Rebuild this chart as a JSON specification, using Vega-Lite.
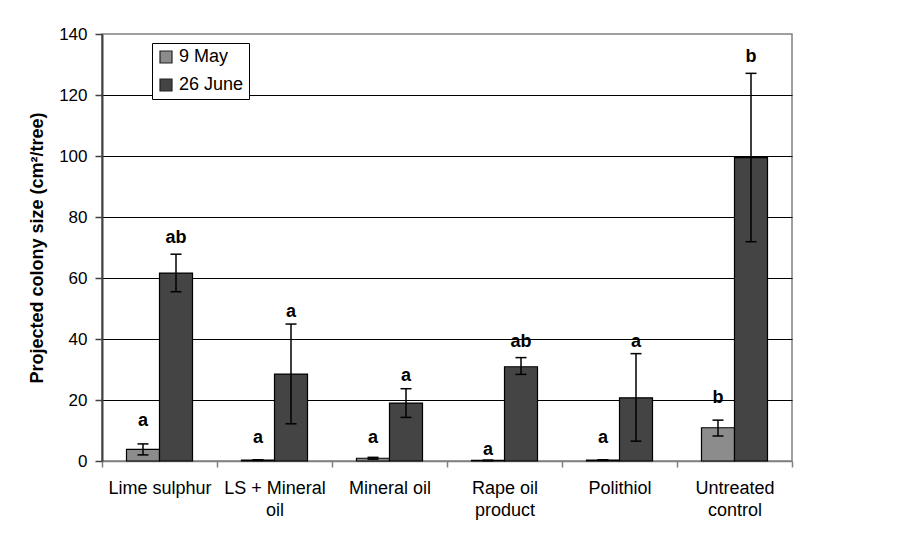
{
  "$schema": "https://vega.github.io/schema/vega-lite/v6.json",
  "width": 690,
  "height": 427,
  "autosize": {"type": "none"},
  "padding": {"left": 102, "top": 34, "right": 112, "bottom": 78},
  "background": "white",
  "config": {
    "font": "Liberation Sans",
    "view": {"stroke": "#808080", "strokeWidth": 1.5}
  },
  "data": {
    "values": [
      {"treatment": "Lime sulphur", "date": "9 May", "value": 3.8, "lo": 2.0, "hi": 5.6, "letter": "a", "letterY": 13.2},
      {"treatment": "Lime sulphur", "date": "26 June", "value": 61.6, "lo": 55.5, "hi": 67.8, "letter": "ab", "letterY": 73.1},
      {"treatment": "LS + Mineral oil", "date": "9 May", "value": 0.3, "lo": 0.2, "hi": 0.4, "letter": "a", "letterY": 7.4},
      {"treatment": "LS + Mineral oil", "date": "26 June", "value": 28.5, "lo": 12.2, "hi": 44.9, "letter": "a", "letterY": 49},
      {"treatment": "Mineral oil", "date": "9 May", "value": 0.9, "lo": 0.6, "hi": 1.2, "letter": "a", "letterY": 7.4},
      {"treatment": "Mineral oil", "date": "26 June", "value": 19.0, "lo": 14.3, "hi": 23.7, "letter": "a", "letterY": 28},
      {"treatment": "Rape oil product", "date": "9 May", "value": 0.2, "lo": 0.1, "hi": 0.3, "letter": "a", "letterY": 3.6},
      {"treatment": "Rape oil product", "date": "26 June", "value": 30.9, "lo": 28.4, "hi": 33.9, "letter": "ab", "letterY": 39},
      {"treatment": "Polithiol", "date": "9 May", "value": 0.3, "lo": 0.2, "hi": 0.4, "letter": "a", "letterY": 7.4},
      {"treatment": "Polithiol", "date": "26 June", "value": 20.7, "lo": 6.5, "hi": 35.2, "letter": "a", "letterY": 39},
      {"treatment": "Untreated control", "date": "9 May", "value": 10.9, "lo": 8.2, "hi": 13.4, "letter": "b", "letterY": 20.7},
      {"treatment": "Untreated control", "date": "26 June", "value": 99.5, "lo": 71.9, "hi": 127.1, "letter": "b", "letterY": 132.6}
    ]
  },
  "encoding": {
    "x": {
      "field": "treatment",
      "type": "nominal",
      "sort": ["Lime sulphur", "LS + Mineral oil", "Mineral oil", "Rape oil product", "Polithiol", "Untreated control"],
      "scale": {"paddingInner": 0, "paddingOuter": 0},
      "axis": {
        "title": null,
        "labelAngle": 0,
        "tickBand": "extent",
        "domainColor": "#808080",
        "domainWidth": 1.5,
        "tickColor": "#808080",
        "tickWidth": 1.5,
        "tickSize": 6,
        "labelFontSize": 18,
        "labelColor": "black",
        "labelPadding": 12,
        "labelBaseline": "top",
        "labelLineHeight": 22,
        "labelLimit": 300,
        "labelExpr": "datum.value == 'LS + Mineral oil' ? ['LS + Mineral', 'oil'] : datum.value == 'Rape oil product' ? ['Rape oil', 'product'] : datum.value == 'Untreated control' ? ['Untreated', 'control'] : datum.label"
      }
    },
    "xOffset": {
      "field": "date",
      "type": "nominal",
      "sort": ["9 May", "26 June"],
      "scale": {"paddingInner": 0, "paddingOuter": 0.742}
    }
  },
  "layer": [
    {
      "mark": {"type": "bar", "stroke": "black", "strokeWidth": 1.2},
      "encoding": {
        "y": {
          "field": "value",
          "type": "quantitative",
          "title": "Projected colony size (cm²/tree)",
          "scale": {"domain": [0, 140], "nice": false, "zero": true},
          "axis": {
            "values": [0, 20, 40, 60, 80, 100, 120, 140],
            "grid": true,
            "gridColor": {"condition": {"test": "datum.value == 140 || datum.value == 0", "value": "transparent"}, "value": "black"},
            "gridWidth": 1,
            "domainColor": "#404040",
            "domainWidth": 2,
            "tickColor": "#404040",
            "tickWidth": 1.5,
            "tickSize": 7,
            "labelFontSize": 17,
            "labelColor": "black",
            "labelPadding": 8,
            "titleFontSize": 18,
            "titleFontWeight": "bold",
            "titleColor": "black",
            "titlePadding": 12
          }
        },
        "color": {
          "field": "date",
          "type": "nominal",
          "scale": {"domain": ["9 May", "26 June"], "range": ["#8c8c8c", "#444444"]},
          "legend": {
            "orient": "none",
            "legendX": 50,
            "legendY": 9,
            "title": null,
            "fillColor": "white",
            "strokeColor": "black",
            "padding": 5,
            "symbolType": "square",
            "symbolSize": 144,
            "symbolStrokeColor": "#222222",
            "symbolStrokeWidth": 1.2,
            "symbolOpacity": 1,
            "labelFontSize": 18,
            "labelColor": "black",
            "labelOffset": 4,
            "rowPadding": 10
          }
        }
      }
    },
    {
      "mark": {"type": "rule", "color": "black", "strokeWidth": 1.5},
      "encoding": {
        "y": {"field": "lo", "type": "quantitative", "title": "Projected colony size (cm²/tree)"},
        "y2": {"field": "hi"}
      }
    },
    {
      "mark": {"type": "tick", "color": "black", "thickness": 1.5, "size": 11, "opacity": 1},
      "encoding": {
        "y": {"field": "lo", "type": "quantitative", "title": "Projected colony size (cm²/tree)"}
      }
    },
    {
      "mark": {"type": "tick", "color": "black", "thickness": 1.5, "size": 11, "opacity": 1},
      "encoding": {
        "y": {"field": "hi", "type": "quantitative", "title": "Projected colony size (cm²/tree)"}
      }
    },
    {
      "mark": {"type": "text", "fontWeight": "bold", "fontSize": 18, "baseline": "middle", "color": "black"},
      "encoding": {
        "y": {"field": "letterY", "type": "quantitative", "title": "Projected colony size (cm²/tree)"},
        "text": {"field": "letter"}
      }
    }
  ]
}
